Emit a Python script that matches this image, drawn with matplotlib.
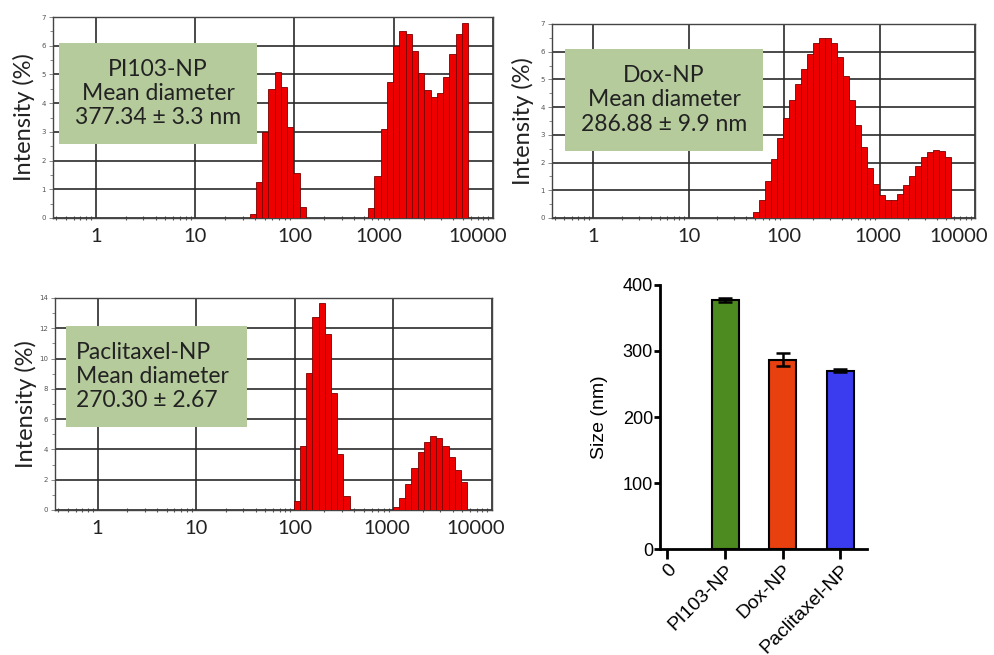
import numpy as np
import matplotlib
matplotlib.use('Agg')
import matplotlib.pyplot as plt
import matplotlib.transforms as mtransforms
from matplotlib.patches import Rectangle
from matplotlib.ticker import FixedLocator, NullFormatter

# Zetasizer size classes: 70 log-spaced bins between 0.4 and 10000 nm
edges = np.geomspace(0.4, 10000, 71)

# first bin number of each peak, and intensities (%) of consecutive bins
pi103_bins = [31, 50]
pi103_int = [[0.15, 1.26, 3.0, 4.5, 5.1, 4.57, 3.18, 1.56, 0.37],
             [0.35, 1.45, 3.1, 4.75, 6.0, 6.5, 6.4, 5.8, 5.05, 4.45, 4.2, 4.35,
              4.9, 5.7, 6.4, 6.8]]
dox_bins = [33]
dox_int = [[0.2, 0.65, 1.35, 2.13, 2.88, 3.61, 4.25, 4.85, 5.39, 5.9, 6.32,
            6.51, 6.51, 6.32, 5.8, 5.13, 4.27, 3.37, 2.55, 1.8, 1.22, 0.84,
            0.66, 0.66, 0.88, 1.19, 1.5, 1.88, 2.19, 2.37, 2.47, 2.4, 2.2]]
ptx_bins = [38, 54]
ptx_int = [[0.62, 4.23, 9.04, 12.74, 13.7, 11.65, 7.72, 3.68, 0.93],
           [0.18, 0.77, 1.72, 2.8, 3.81, 4.52, 4.89, 4.74, 4.25, 3.53, 2.65, 1.83]]

size_ticks = [1, 10, 100, 1000, 10000]
size_labels = ['1', '10', '100', '1000', '10000']

box_texts = ["PI103-NP\nMean diameter\n377.34 \u00b1 3.3 nm",
             "Dox-NP\nMean diameter\n286.88 \u00b1 9.9 nm",
             "Paclitaxel-NP\nMean diameter\n270.30 \u00b1 2.67"]

samples = ['PI103-NP', 'Dox-NP', 'Paclitaxel-NP']
mean_size = [377.34, 286.88, 270.30]
size_err = [3.3, 9.9, 2.67]
bar_colors = ['#4d8a1f', '#e8400f', '#3b3bef']

W, H = 995, 655
fig = plt.figure(figsize=(W/100, H/100), dpi=100)

calibri = ['Lato', 'DejaVu Sans']


def px_rect(l, t, r, b):
    return [l/W, 1 - b/H, (r - l)/W, (b - t)/H]


def dls_panel(rect, first_bins, heights, ymax, ystep, box, text, align, shifts):
    ax = fig.add_axes(px_rect(*rect))
    for b0, h in zip(first_bins, heights):
        idx = np.arange(b0, b0 + len(h))
        ax.bar(edges[idx], h, width=edges[idx + 1] - edges[idx], align='edge',
               color='#ee0000', edgecolor='#7a0000', linewidth=0.6, zorder=3)
    ax.set_xscale('log')
    ax.set_xlim(0.37, 10000)
    ax.set_ylim(0, ymax)
    ax.set_axisbelow(True)

    ax.xaxis.set_major_locator(FixedLocator(size_ticks))
    ax.xaxis.set_major_formatter(NullFormatter())
    # size labels drawn by hand: the last two are nudged left in the original
    for xv, lab, dx in zip(size_ticks, size_labels, shifts):
        tr = ax.get_xaxis_transform() + mtransforms.ScaledTranslation(
            dx / 100, -10 / 100, fig.dpi_scale_trans)
        ax.text(xv, 0, lab, transform=tr, ha='center', va='top',
                family=calibri, fontsize=14.5, color='#222222')
    minors = [m * 10.0**d for d in range(-1, 4) for m in range(2, 10)
              if 0.37 < m * 10.0**d < 10000]
    ax.xaxis.set_minor_locator(FixedLocator(minors))
    ax.xaxis.set_minor_formatter(NullFormatter())
    ax.tick_params(axis='x', which='major', length=0)
    ax.tick_params(axis='x', which='minor', length=3, direction='inout',
                   color='#555555', width=0.8)

    ax.yaxis.set_major_locator(FixedLocator(np.arange(0, ymax + 0.1, ystep)))
    ax.yaxis.set_minor_locator(FixedLocator(np.arange(ystep / 2, ymax, ystep)))
    ax.tick_params(axis='y', which='major', length=3, width=0.6, pad=2,
                   labelsize=5, labelcolor='#555555', color='#777777')
    ax.tick_params(axis='y', which='minor', length=2, width=0.6, color='#777777')
    ax.set_yticklabels([str(int(v)) for v in np.arange(0, ymax + 0.1, ystep)])

    ax.grid(True, which='major', color='#2a2a2a', linewidth=1.2)
    for s in ax.spines.values():
        s.set_color('#444444')
        s.set_linewidth(1.0)

    ax.text(-29 / (rect[2] - rect[0]), 0.5, 'Intensity (%)', rotation=90,
            ha='center', va='center', transform=ax.transAxes,
            family=calibri, fontsize=17, color='#222222')

    l, t, r, b = box
    fig.patches.append(Rectangle((l / W, 1 - b / H), (r - l) / W, (b - t) / H,
                                 transform=fig.transFigure, facecolor='#b6cb9c',
                                 edgecolor='none', zorder=5))
    if align == 'center':
        x = (l + r) / 2
    else:
        x = l + 10
    fig.text(x / W, 1 - (t + b) / 2 / H, text, ha=align, va='center',
             multialignment=align, family=calibri, fontsize=16.5,
             color='#222222', linespacing=1.2, zorder=6)
    return ax


dls_panel((53, 17, 493, 218), pi103_bins, pi103_int, 7, 1,
          (59, 43, 257, 144), box_texts[0], 'center', [0, 0, 0, -15, -15])
dls_panel((552, 24, 975, 218), dox_bins, dox_int, 7, 1,
          (565, 49, 763, 151), box_texts[1], 'center', [0, 0, 0, -2, -16])
dls_panel((55, 298, 492, 510), ptx_bins, ptx_int, 14, 2,
          (66, 326, 247, 427), box_texts[2], 'left', [0, 0, 0, -7, -16])

# mean size bar chart
ax4 = fig.add_axes(px_rect(660, 285, 867, 549))
ax4.bar([1, 2, 3], mean_size, width=0.47, color=bar_colors, edgecolor='black',
        linewidth=1.5, yerr=size_err, capsize=5,
        error_kw=dict(elinewidth=1.8, capthick=1.8, ecolor='black'), zorder=3)
ax4.set_xlim(-0.13, 3.46)
ax4.set_ylim(0, 400)
ax4.set_xticks([0, 1, 2, 3])
ax4.set_xticklabels(['0'] + samples, rotation=45, ha='right', va='top',
                    rotation_mode='anchor', family='Liberation Sans', fontsize=14)
ax4.set_yticks([0, 100, 200, 300, 400])
ax4.set_yticklabels(['0', '100', '200', '300', '400'], family='Liberation Sans',
                    fontsize=13)
for s in ['top', 'right']:
    ax4.spines[s].set_visible(False)
for s in ['left', 'bottom']:
    ax4.spines[s].set_linewidth(2)
ax4.tick_params(axis='y', length=4, width=2, pad=1)
ax4.tick_params(axis='x', length=7, width=2, pad=2)
ax4.text(-60 / 207, 0.5, 'Size (nm)', rotation=90, ha='center', va='center',
         transform=ax4.transAxes, family='Liberation Sans', fontsize=14)

fig.savefig('out.png', dpi=100)
